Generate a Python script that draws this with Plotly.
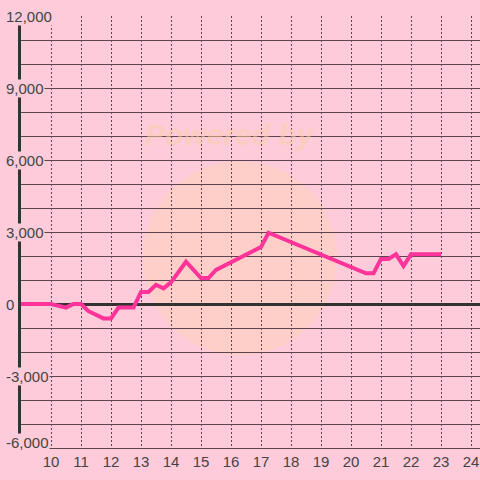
"""
Cumulative balance line chart (pink theme)
"""
import plotly.graph_objects as go

# Data
hours = [9.0, 10.0, 10.5, 10.75, 11.0, 11.25, 11.75, 12.0, 12.25, 12.75,
         13.0, 13.25, 13.5, 13.75, 14.0, 14.5, 15.0, 15.25, 15.5, 17.0,
         17.25, 20.5, 20.75, 21.0, 21.25, 21.5, 21.75, 22.0, 23.0]
balance = [0, 0, -150, 0, 0, -300, -600, -600, -150, -150,
           500, 500, 800, 650, 900, 1760, 1080, 1080, 1420, 2370,
           2970, 1280, 1280, 1880, 1880, 2070, 1580, 2070, 2070]

x_ticks = list(range(10, 25))
y_label_vals = [12000, 9000, 6000, 3000, 0, -3000, -6000]

BG = '#fdcbd9'
GRID = '#5e4350'
AXIS = '#333333'
TEXT = '#444444'
FONT = 'Liberation Sans, Arial, sans-serif'

fig = go.Figure(
    go.Scatter(
        x=hours,
        y=balance,
        mode='lines',
        line=dict(color='#ff3399', width=4),
        hoverinfo='x+y'
    )
)

# Faint watermark circle behind the grid
fig.add_shape(
    type='circle', xref='x', yref='y',
    x0=13.07, x1=19.53, y0=-2130, y1=5950,
    fillcolor='rgba(255, 214, 170, 0.35)', line_width=0, layer='below'
)
fig.add_annotation(
    text='<b><i>Powered by</i></b>', x=15.96, y=7070, xref='x', yref='y',
    showarrow=False, font=dict(family=FONT, size=30, color='rgba(250, 205, 170, 0.55)')
)

# Y tick labels drawn over the axis line with a background box
for v in y_label_vals:
    fig.add_annotation(
        text=f"{v:,}", x=-16 / 459, y=v, xref='paper', yref='y',
        xanchor='left', yanchor='middle', showarrow=False,
        yshift=6 if v == -6000 else 0,
        bgcolor=BG, borderpad=0,
        font=dict(family=FONT, size=15, color=TEXT)
    )

fig.update_layout(
    width=480,
    height=480,
    paper_bgcolor=BG,
    plot_bgcolor=BG,
    showlegend=False,
    margin=dict(l=21, r=0, t=16, b=32),
    font=dict(family=FONT, size=15, color=TEXT),
    xaxis=dict(
        range=[9, 24.3],
        tickvals=x_ticks,
        showgrid=True,
        gridcolor=GRID,
        gridwidth=1,
        griddash='2px,2px',
        zeroline=False,
        showline=True,
        linecolor=GRID,
        linewidth=1,
        ticks='',
        tickfont=dict(family=FONT, size=15, color=TEXT)
    ),
    yaxis=dict(
        range=[-6000, 12000],
        dtick=1000,
        showgrid=True,
        gridcolor=GRID,
        gridwidth=1,
        zeroline=True,
        zerolinecolor=AXIS,
        zerolinewidth=3,
        showline=True,
        linecolor=AXIS,
        linewidth=3,
        showticklabels=False,
        ticks=''
    )
)

# drop the default page margin so the 480x480 figure fills the window
fig.write_html(
    "out.html",
    config={'displayModeBar': False},
    post_script="document.body.style.margin='0';"
)
